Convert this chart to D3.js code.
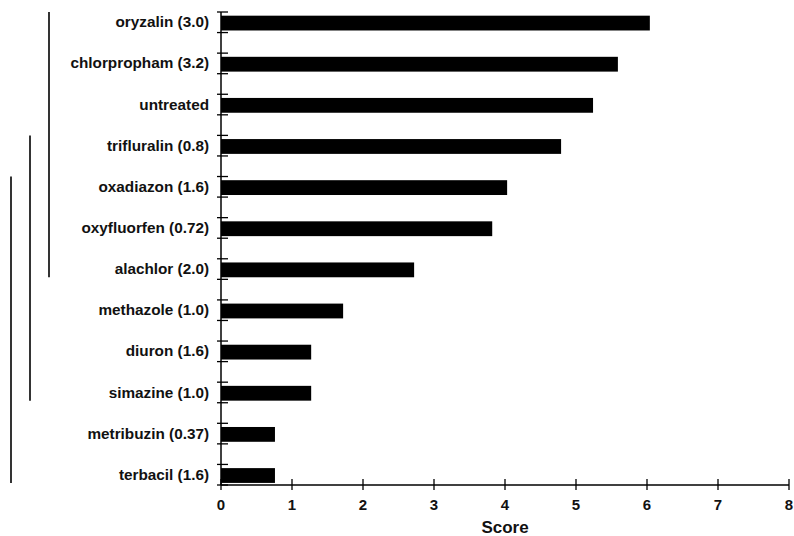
<!DOCTYPE html>
<html>
<head>
<meta charset="utf-8">
<script src="https://cdn.jsdelivr.net/npm/d3@7"></script>
<style>
  html, body { margin: 0; padding: 0; background: #fff; }
  svg { display: block; font-family: "Liberation Sans", Arial, Helvetica, sans-serif; }
</style>
</head>
<body>
<svg id="chart" width="794" height="536"></svg>
<script>
const categories = ["oryzalin (3.0)", "chlorpropham (3.2)", "untreated", "trifluralin (0.8)",
  "oxadiazon (1.6)", "oxyfluorfen (0.72)", "alachlor (2.0)", "methazole (1.0)",
  "diuron (1.6)", "simazine (1.0)", "metribuzin (0.37)", "terbacil (1.6)"];
const scores = [6.04, 5.59, 5.24, 4.79, 4.03, 3.82, 2.72, 1.72, 1.27, 1.27, 0.76, 0.76];
const xTicks = [0, 1, 2, 3, 4, 5, 6, 7, 8];
// significance groups (first and last category spanned by each vertical line)
const groups = [
  ["oryzalin (3.0)", "alachlor (2.0)"],
  ["trifluralin (0.8)", "simazine (1.0)"],
  ["oxadiazon (1.6)", "terbacil (1.6)"]
];

const svg = d3.select("#chart");
const x0 = 221, x1 = 789, yTop = 12, yBot = 485;

const x = d3.scaleLinear().domain([0, 8]).range([x0, x1]);
const y = d3.scaleBand().domain(categories).range([yTop, yBot])
  .paddingInner(0.5).paddingOuter(0);

// bars
const barH = y.bandwidth() * 0.72;
svg.append("g").selectAll("rect").data(categories).join("rect")
  .attr("x", x(0))
  .attr("y", d => y(d) + (y.bandwidth() - barH) / 2 + 0.8)
  .attr("width", (d, i) => x(scores[i]) - x(0))
  .attr("height", barH)
  .attr("fill", "#000");

// y axis line + ticks at band edges
const yAxis = svg.append("g");
yAxis.append("line").attr("x1", x0).attr("x2", x0).attr("y1", yTop).attr("y2", yBot)
  .attr("stroke", "#000").attr("stroke-width", 1.5);
const edges = [];
categories.forEach(c => { edges.push(y(c)); edges.push(y(c) + y.bandwidth()); });
yAxis.selectAll("line.tk").data(edges).join("line").attr("class", "tk")
  .attr("x1", x0 - 4).attr("x2", x0 + 7)
  .attr("y1", d => d).attr("y2", d => d)
  .attr("stroke", "#000").attr("stroke-width", 1.3);

// category labels
svg.append("g").selectAll("text").data(categories).join("text")
  .attr("x", 209)
  .attr("y", d => y(d) + y.bandwidth() / 2 + 1)
  .attr("text-anchor", "end")
  .attr("dominant-baseline", "middle")
  .attr("font-size", 15.3)
  .attr("font-weight", "bold")
  .attr("fill", "#111")
  .text(d => d);

// x axis
const xAxis = svg.append("g");
xAxis.append("line").attr("x1", x0).attr("x2", x1).attr("y1", yBot).attr("y2", yBot)
  .attr("stroke", "#000").attr("stroke-width", 1.5);
xAxis.selectAll("line.tk").data(xTicks).join("line").attr("class", "tk")
  .attr("x1", d => x(d)).attr("x2", d => x(d))
  .attr("y1", yBot - 6).attr("y2", yBot + 5)
  .attr("stroke", "#000").attr("stroke-width", 1.3);
xAxis.selectAll("text").data(xTicks).join("text")
  .attr("x", d => x(d)).attr("y", 510)
  .attr("text-anchor", "middle")
  .attr("font-size", 15).attr("font-weight", "bold").attr("fill", "#111")
  .text(d => d);
svg.append("text").attr("x", 505).attr("y", 533)
  .attr("text-anchor", "middle")
  .attr("font-size", 17).attr("font-weight", "bold").attr("fill", "#111")
  .text("Score");

// significance lines
const lineX = [49, 30, 11];
svg.append("g").selectAll("line").data(groups).join("line")
  .attr("x1", (d, i) => lineX[i]).attr("x2", (d, i) => lineX[i])
  .attr("y1", d => y(d[0]))
  .attr("y2", d => y(d[1]) + y.bandwidth() - 2)
  .attr("stroke", "#000").attr("stroke-width", 1.6);
</script>
</body>
</html>
